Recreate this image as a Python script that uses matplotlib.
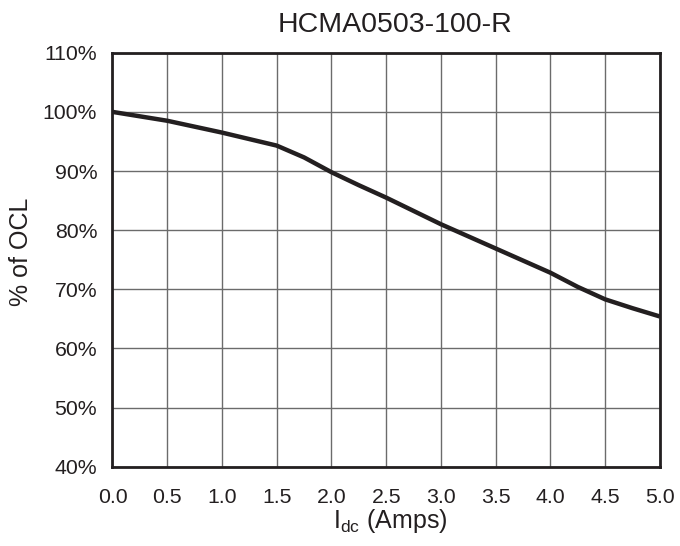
import numpy as np
import matplotlib
matplotlib.use('Agg')
import matplotlib.pyplot as plt
from matplotlib.ticker import FuncFormatter

plt.rcParams['font.family'] = ['Liberation Sans', 'DejaVu Sans']
plt.rcParams['mathtext.fontset'] = 'custom'
plt.rcParams['mathtext.rm'] = 'Liberation Sans'

# values
idc = [0.0, 0.5, 1.0, 1.5, 1.75, 2.0, 2.25, 2.5, 3.0, 3.5, 4.0, 4.25, 4.5, 4.75, 5.0]
ocl = [100.0, 98.5, 96.5, 94.3, 92.3, 89.8, 87.6, 85.5, 81.0, 76.9, 72.8, 70.4, 68.3, 66.8, 65.4]

ink = '#231f20'

fig = plt.figure(figsize=(6.8, 5.46), dpi=100)
ax = fig.add_axes([0.1654, 0.1452, 0.8051, 0.7582])

ax.plot(idc, ocl, color=ink, lw=3.2, solid_capstyle='butt', zorder=3)

ax.set_xlim(0, 5)
ax.set_ylim(40, 110)
ax.set_xticks(np.arange(0, 5.01, 0.5))
ax.set_yticks(np.arange(40, 111, 10))
ax.xaxis.set_major_formatter(FuncFormatter(lambda v, p: f'{v:.1f}'))
ax.yaxis.set_major_formatter(FuncFormatter(lambda v, p: f'{v:.0f}%'))
ax.tick_params(length=0, labelsize=15.3, colors=ink)
ax.tick_params(axis='x', pad=15)
ax.tick_params(axis='y', pad=11)
ax.grid(True, color='#6b6b6b', lw=1.0)
ax.set_axisbelow(True)
for s in ax.spines.values():
    s.set_linewidth(2)
    s.set_color(ink)

fig.text(395 / 680, 1 - 31.7 / 546, 'HCMA0503-100-R', fontsize=20.5, color=ink,
         ha='center', va='baseline')
ax.set_xlabel('I$_{\\mathregular{dc}}$ (Amps)', fontsize=18, color=ink)
ax.set_ylabel('% of OCL', fontsize=18, color=ink)
ax.xaxis.set_label_coords(0.507, -0.097)
ax.yaxis.set_label_coords(-0.146, 0.52)

fig.savefig('out.png', dpi=100)
